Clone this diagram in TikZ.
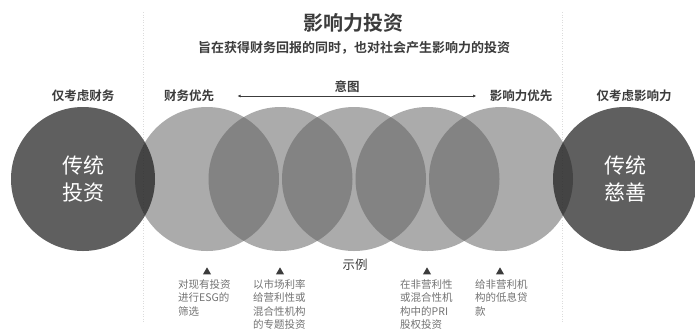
\documentclass[tikz,border=0pt]{standalone}
\usepackage{fontspec}
\setmainfont{Noto Sans CJK SC}[BoldFont={Noto Sans CJK SC Bold}]
\usetikzlibrary{shapes.geometric, arrows.meta, positioning}
\definecolor{ImpDark}{RGB}{20, 20, 20}
\definecolor{ImpMid}{RGB}{95, 95, 95}
\definecolor{ImpText}{RGB}{60, 60, 60}
\definecolor{ImpNote}{RGB}{115, 115, 115}
\definecolor{ImpRule}{RGB}{220, 220, 220}

\tikzset{
  darkdisc/.style={circle, fill=ImpDark, fill opacity=0.68, text opacity=1,
    minimum size=144pt, inner sep=0pt, text=white, align=center,
    font=\fontsize{21}{27}\selectfont},
  lightdisc/.style={circle, fill=ImpMid, fill opacity=0.52, minimum size=144pt, inner sep=0pt},
  headlabel/.style={text=ImpText, font=\fontsize{12.5}{14}\selectfont\bfseries},
  notetext/.style={text=ImpNote, align=left, anchor=north west, inner sep=0pt,
    font=\fontsize{10.5}{13.5}\selectfont},
  marker/.style={isosceles triangle, shape border rotate=90, isosceles triangle apex angle=60,
    fill=ImpText, minimum width=8pt, minimum height=7pt, inner sep=0pt},
}

\begin{document}
\begin{tikzpicture}[x=1pt,y=-1pt]
  \path[use as bounding box] (0,0) rectangle (695,330);
  \fill[white] (0,0) rectangle (695,330);
  % faint separators
  \foreach \x in {143,562}{
    \draw[ImpRule, dotted, line width=0.6pt] (\x,12) -- (\x,322);
  }
  % heading
  \node[text=ImpText, font=\fontsize{20}{22}\selectfont\bfseries] (title) at (353,23) {影响力投资};
  \node[text=ImpText, font=\fontsize{13}{15}\selectfont\bfseries] (subtitle) at (354,48)
    {旨在获得财务回报的同时，也对社会产生影响力的投资};
  \node[headlabel] (intent) at (347,87) {意图};
  \node[headlabel] (onlyfin) at (83,96) {仅考虑财务};
  \node[headlabel] (pfin) at (189,96) {财务优先};
  \node[headlabel] (pimp) at (521,96) {影响力优先};
  \node[headlabel] (onlyimp) at (634,96) {仅考虑影响力};
  \draw[ImpText, line width=0.6pt, {Latex[length=3pt,width=3pt]}-{Latex[length=3pt,width=3pt]},
    shorten <=20pt, shorten >=10pt] (pfin.east) -- (pimp.west);
  % circles
  \foreach \x/\n in {207/1, 280.5/2, 354/3, 427.5/4, 501/5}{
    \node[lightdisc] (mid\n) at (\x,179) {};
  }
  \node[darkdisc] (trinv) at (83,179) {传统\\投资};
  \node[darkdisc] (trphil) at (625,179) {传统\\慈善};
  % examples
  \node[headlabel, font=\fontsize{12.5}{14}\selectfont] (example) at (355,265) {示例};
  \foreach \x/\n in {207/1, 280/2, 427/3, 500/4}{
    \node[marker] (mk\n) at (\x,272) {};
  }
  \node[notetext] (ex1) at (178,279) {对现有投资\\进行ESG的\\筛选};
  \node[notetext] (ex2) at (253,279) {以市场利率\\给营利性或\\混合性机构\\的专题投资};
  \node[notetext] (ex3) at (400,279) {在非营利性\\或混合性机\\构中的PRI\\股权投资};
  \node[notetext] (ex4) at (475,279) {给非营利机\\构的低息贷\\款};
\end{tikzpicture}
\end{document}
